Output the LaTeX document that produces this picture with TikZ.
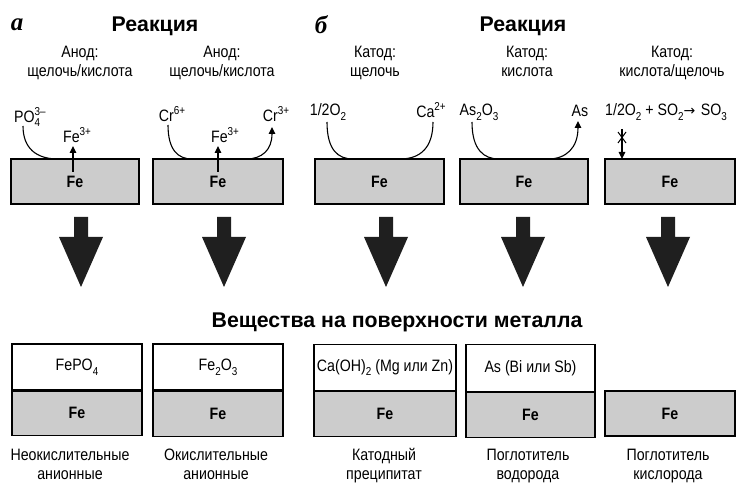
\documentclass[tikz,border=0pt]{standalone}
\usepackage{fontspec}
\setmainfont{Liberation Sans}
\newfontfamily\nar[FakeStretch=0.86]{Liberation Sans}
\newfontfamily\arrfont{DejaVu Sans}
\newfontfamily\serifbi{Liberation Serif}
\usetikzlibrary{arrows.meta}
\definecolor{metal}{gray}{0.80}
\newcommand{\sps}[1]{\raisebox{0.42em}{\fontsize{11.5}{12}\selectfont #1}}
\newcommand{\sbs}[1]{\raisebox{-0.28em}{\fontsize{11.5}{12}\selectfont #1}}
\tikzset{
  lab/.style={font=\nar\fontsize{16.5}{19}\selectfont, align=center, inner sep=0pt},
  chem/.style={font=\nar\fontsize{16.5}{19}\selectfont, inner sep=0pt},
  head/.style={font=\bfseries\fontsize{21.3}{24}\selectfont, inner sep=0pt},
  letter/.style={font=\serifbi\bfseries\itshape\fontsize{25}{25}\selectfont, inner sep=0pt},
  febox/.style={draw, line width=1.1pt, fill=metal, font=\nar\bfseries\fontsize{16.5}{19}\selectfont, inner sep=0pt},
  coatbox/.style={draw, line width=1.1pt, fill=white, font=\nar\fontsize{16.5}{19}\selectfont, inner sep=0pt},
  flow/.style={line width=1.1pt},
  tip/.style={-{Triangle[length=7pt,width=6.5pt]}},
  bigarrow/.style={fill=black!88, draw=none}
}
\begin{document}
\begin{tikzpicture}[x=1pt,y=-1pt]
\path[use as bounding box] (0,0) rectangle (750,502);

% headings
\node[letter] (la) at (17,25) {а};
\node[letter] (lb) at (321,25) {б};
\node[head] (h1) at (155,26) {Реакция};
\node[head] (h2) at (523,26) {Реакция};

% top labels
\node[lab, anchor=north] (c1) at (80,44) {\strut Анод:\\\strut щелочь/кислота};
\node[lab, anchor=north] (c2) at (222,44) {\strut Анод:\\\strut щелочь/кислота};
\node[lab, anchor=north] (c3) at (375,44) {\strut Катод:\\\strut щелочь};
\node[lab, anchor=north] (c4) at (527,44) {\strut Катод:\\\strut кислота};
\node[lab, anchor=north] (c5) at (672,44) {\strut Катод:\\\strut кислота/щелочь};

% top Fe boxes
\node[febox, minimum width=128pt, minimum height=45pt] (t1) at (75,181.5) {Fe};
\node[febox, minimum width=130pt, minimum height=45pt] (t2) at (218,181.5) {Fe};
\node[febox, minimum width=129pt, minimum height=45pt] (t3) at (379.5,181.5) {Fe};
\node[febox, minimum width=128pt, minimum height=45pt] (t4) at (524,181.5) {Fe};
\node[febox, minimum width=130pt, minimum height=45pt] (t5) at (670,181.5) {Fe};

% reaction species
\node[chem, anchor=west] (po4) at (14,117) {PO\rlap{\sps{3–}}\sbs{4}\hphantom{\sps{3}}};
\node[chem] (fe1) at (77,135) {Fe\sps{3+}};
\node[chem] (cr6) at (172,114) {Cr\sps{6+}};
\node[chem] (fe2) at (225,135) {Fe\sps{3+}};
\node[chem] (cr3) at (276,114) {Cr\sps{3+}};
\node[chem] (o2a) at (328,112) {1/2O\sbs{2}};
\node[chem] (ca) at (431,110) {Ca\sps{2+}};
\node[chem] (as2o3) at (479,112) {As\sbs{2}O\sbs{3}};
\node[chem] (as) at (580,111) {As};
\node[chem] (eq) at (666,112) {1/2O\sbs{2} + SO\sbs{2}{\arrfont\fontsize{14}{14}\selectfont →}\,\,SO\sbs{3}};

% curves
\coordinate (p1a) at (23,126);
\draw[flow] (p1a) .. controls (23,148) and (36,159) .. (58,159);
\draw[flow, tip] (73,172) -- (73,146);

\coordinate (p2a) at (168,125);
\draw[flow, tip] (p2a) .. controls (168,150) and (178,159) .. (192,159) -- (246,159)
   .. controls (262,159) and (272,150) .. (272,127);
\draw[flow, tip] (218,172) -- (218,146);

\coordinate (p3a) at (327,122);
\draw[flow] (p3a) .. controls (327,150) and (338,159) .. (353,159) -- (400,159)
   .. controls (420,159) and (433,148) .. (433,122);

\coordinate (p4a) at (472,122);
\draw[flow, tip] (p4a) .. controls (472,150) and (484,159) .. (499,159) -- (548,159)
   .. controls (566,159) and (578,148) .. (578,121);

\coordinate (p5a) at (622,129);
\coordinate (p5b) at (622,159);
\draw[flow, tip] (p5a) -- (p5b);
\draw[line width=1pt] (618,132) -- (626,143) (626,132) -- (618,143);

% big arrows
\foreach \cx/\nm in {81/a1,224/a2,386/a3,523/a4,668/a5}{
  \fill[bigarrow] (\cx-7,217) -- (\cx+7,217) -- (\cx+7,237) -- (\cx+22,237)
     -- (\cx,287) -- (\cx-22,237) -- (\cx-7,237) -- cycle;
}

% middle heading
\node[head] (mid) at (397,322) {Вещества на поверхности металла};

% bottom boxes
\node[coatbox, minimum width=130pt, minimum height=46pt] (b1c) at (77,367) {FePO\sbs{4}};
\node[febox, minimum width=130pt, minimum height=44pt, anchor=north] (b1) at (b1c.south) {Fe};
\node[coatbox, minimum width=130pt, minimum height=46pt] (b2c) at (218,367) {Fe\sbs{2}O\sbs{3}};
\node[febox, minimum width=130pt, minimum height=45pt, anchor=north] (b2) at (b2c.south) {Fe};
\node[coatbox, minimum width=142pt, minimum height=46pt] (b3c) at (385,367.5) {Ca(OH)\sbs{2} (Mg или Zn)};
\node[febox, minimum width=142pt, minimum height=45pt, anchor=north] (b3) at (b3c.south) {Fe};
\node[coatbox, minimum width=129pt, minimum height=47pt] (b4c) at (530.5,368) {As (Bi или Sb)};
\node[febox, minimum width=129pt, minimum height=45pt, anchor=north] (b4) at (b4c.south) {Fe};
\node[febox, minimum width=130pt, minimum height=45pt] (b5) at (670,413.5) {Fe};

% bottom labels
\node[lab, anchor=north] (d1) at (70,447) {\strut Неокислительные\\\strut анионные};
\node[lab, anchor=north] (d2) at (216,447) {\strut Окислительные\\\strut анионные};
\node[lab, anchor=north] (d3) at (384,447) {\strut Катодный\\\strut преципитат};
\node[lab, anchor=north] (d4) at (528,447) {\strut Поглотитель\\\strut водорода};
\node[lab, anchor=north] (d5) at (668,447) {\strut Поглотитель\\\strut кислорода};
\end{tikzpicture}
\end{document}
